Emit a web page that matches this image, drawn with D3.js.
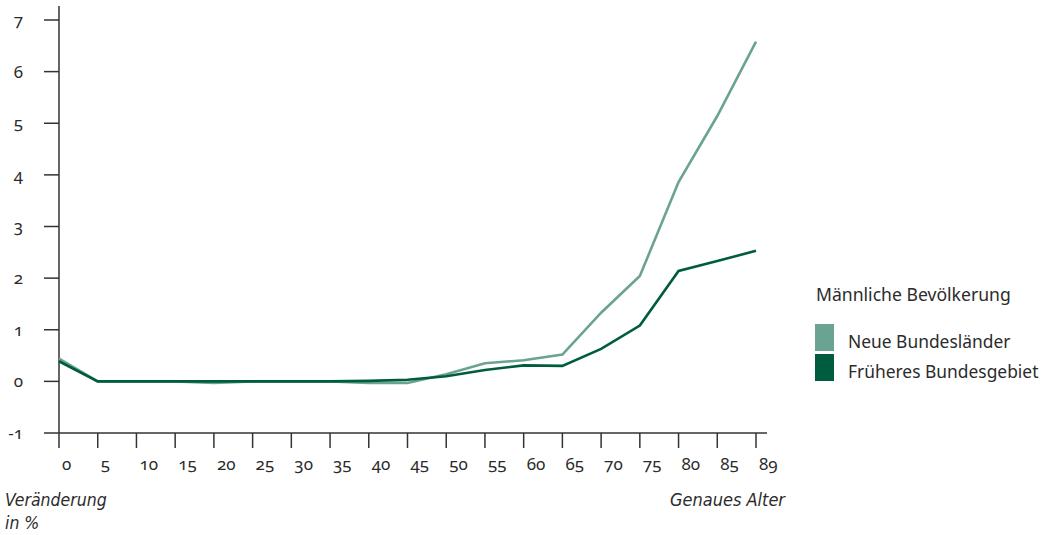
<!DOCTYPE html>
<html><head><meta charset="utf-8">
<script src="https://cdn.jsdelivr.net/npm/d3@7"></script>
<style>
html,body{margin:0;padding:0;background:#fff;}
svg{display:block;}
text{font-family:"Noto Sans","Open Sans",sans-serif;fill:#2b2b2b;}
.num{font-variant-numeric:oldstyle-nums;font-feature-settings:"onum" 1;}
.it{font-family:"Liberation Sans Narrow","DejaVu Sans Condensed",sans-serif;font-style:italic;}
</style></head><body>
<svg id="c" width="1052" height="535"></svg>
<script>
const ages = ["0","5","10","15","20","25","30","35","40","45","50","55","60","65","70","75","80","85","89"];
const neueBundeslaender = [0.44,0,0,0,-0.03,0,0,0,-0.03,-0.03,0.14,0.35,0.41,0.52,1.33,2.04,3.86,5.14,6.58];
const fruehBundesgebiet = [0.39,0,0,0,0,0,0,0,0.01,0.03,0.1,0.22,0.31,0.3,0.63,1.08,2.14,2.33,2.53];
const yTicks = [-1,0,1,2,3,4,5,6,7];
const seriesNames = ["Neue Bundesländer","Früheres Bundesgebiet"];
const colors = ["#6aa392","#005c3e"];

const svg = d3.select("#c");
const x = d3.scalePoint().domain(ages).range([59,756]);
const y = d3.scaleLinear().domain([-1,7]).range([433,20]);
const axisColor = "#333";

svg.append("line").attr("x1",59).attr("x2",59).attr("y1",6).attr("y2",433)
  .attr("stroke",axisColor).attr("stroke-width",1.5);
svg.append("line").attr("x1",59).attr("x2",767).attr("y1",433).attr("y2",433)
  .attr("stroke",axisColor).attr("stroke-width",1.5);

const yt = svg.append("g");
yTicks.forEach(v=>{
  yt.append("line").attr("x1",44).attr("x2",59).attr("y1",y(v)).attr("y2",y(v))
    .attr("stroke",axisColor).attr("stroke-width",1.5);
  yt.append("text").attr("class","num").attr("x",23).attr("y",y(v)).attr("dy","0.35em")
    .attr("text-anchor","end").attr("font-size",17).text(v);
});
const xt = svg.append("g");
ages.forEach(a=>{
  xt.append("line").attr("x1",x(a)).attr("x2",x(a)).attr("y1",433).attr("y2",448)
    .attr("stroke",axisColor).attr("stroke-width",1.5);
  xt.append("text").attr("class","num").attr("x",x(a)+3).attr("y",470)
    .attr("text-anchor","start").attr("font-size",17).text(a);
});

const line = d3.line().x((d,i)=>x(ages[i])).y(d=>y(d));
[neueBundeslaender,fruehBundesgebiet].forEach((s,i)=>{
  svg.append("path").datum(s).attr("d",line).attr("fill","none")
    .attr("stroke",colors[i]).attr("stroke-width",2.6).attr("stroke-linejoin","miter");
});

svg.append("text").attr("class","it").attr("x",5).attr("y",506).attr("font-size",17.5).text("Veränderung");
svg.append("text").attr("class","it").attr("x",5).attr("y",529).attr("font-size",17.5).text("in %");
svg.append("text").attr("class","it").attr("x",785).attr("y",506).attr("text-anchor","end").attr("font-size",18).text("Genaues Alter");

svg.append("text").attr("x",816).attr("y",301).attr("font-size",17.6).text("Männliche Bevölkerung");
seriesNames.forEach((n,i)=>{
  svg.append("rect").attr("x",815).attr("y",324+i*30).attr("width",19).attr("height",27).attr("fill",colors[i]);
  svg.append("text").attr("x",848).attr("y",348+i*30).attr("font-size",17.4).text(n);
});
</script>
</body></html>
